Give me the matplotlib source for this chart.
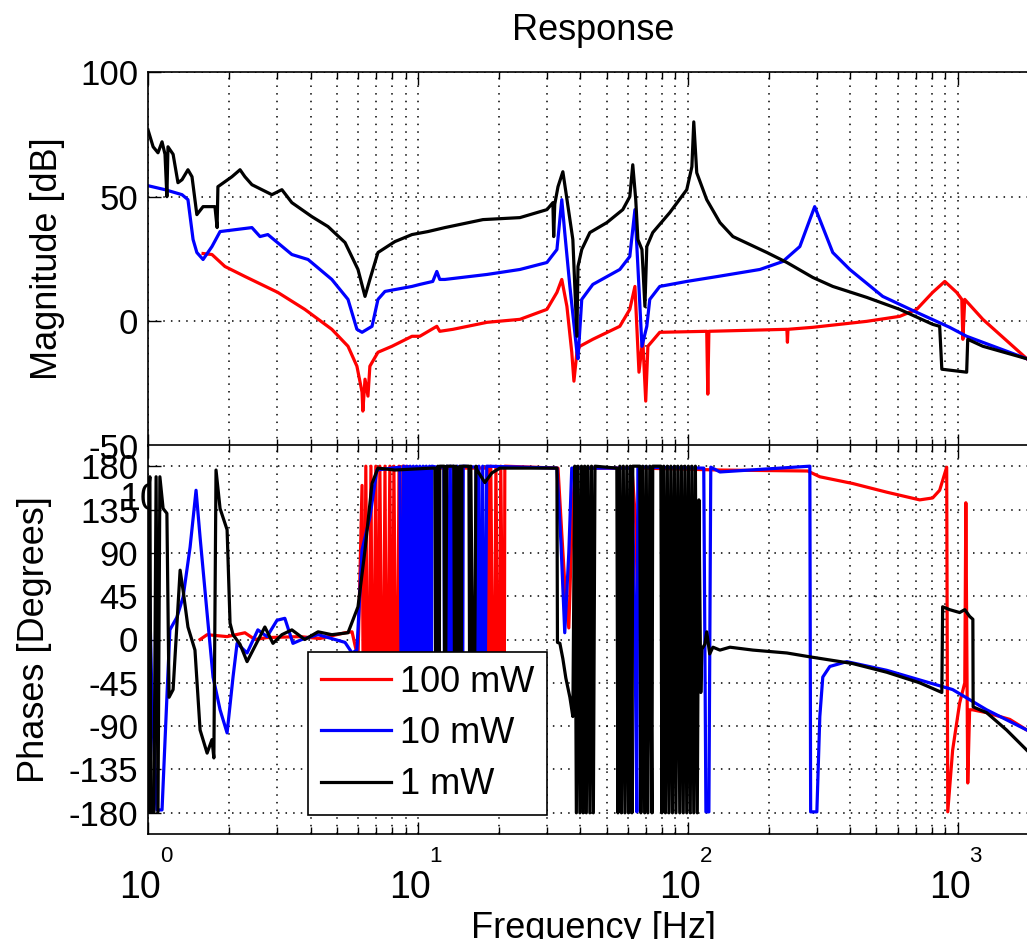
import matplotlib
matplotlib.use("Agg")
import matplotlib.pyplot as plt
import matplotlib.transforms as mtransforms
from matplotlib.ticker import LogLocator, NullFormatter
import numpy as np

plt.rcParams["font.family"] = ["Liberation Sans", "DejaVu Sans"]
plt.rcParams["axes.unicode_minus"] = False

# (log10 frequency [Hz], magnitude [dB])
red_mag = [(0.204, 27.2), (0.237, 26.8), (0.285, 22), (0.359, 18), (0.481, 11.6),
           (0.581, 4.8), (0.681, -3.2), (0.741, -10), (0.774, -18), (0.793, -28.4),
           (0.796, -36), (0.804, -23.2), (0.815, -30), (0.822, -18), (0.852, -12.4),
           (0.904, -10), (0.978, -6), (1.007, -6), (1.070, -2), (1.081, -4),
           (1.130, -3.2), (1.256, -0.4), (1.378, 0.8), (1.478, 4.8), (1.515, 11.6),
           (1.533, 16.8), (1.552, 6), (1.570, -12.4), (1.578, -24), (1.589, -12.4),
           (1.600, -10), (1.648, -7.2), (1.748, -2), (1.785, 4.8), (1.804, 14),
           (1.819, -20.4), (1.833, -7.2), (1.844, -32), (1.852, -10), (1.896, -4.4),
           (2.070, -4), (2.074, -29.2), (2.078, -4), (2.367, -3.2), (2.369, -8.4),
           (2.371, -3.2), (2.463, -2.4), (2.663, 0), (2.785, 2), (2.848, 4.8),
           (2.907, 11.6), (2.952, 16), (2.996, 11.6), (3.015, 8.8), (3.019, -7.2),
           (3.026, 8.8), (3.093, 0.8), (3.256, -15)]

blue_mag = [(0.000, 54.4), (0.063, 52.8), (0.126, 50.8), (0.148, 48.8), (0.167, 32.8),
            (0.181, 27.6), (0.204, 24.8), (0.237, 30), (0.267, 36), (0.385, 37.6),
            (0.415, 34), (0.444, 34.8), (0.533, 26.8), (0.593, 24.8), (0.681, 16.8),
            (0.741, 8.8), (0.774, -3.2), (0.793, -4.4), (0.830, -2), (0.852, 8.8),
            (0.878, 12), (0.978, 14), (1.007, 14.8), (1.055, 16), (1.070, 20),
            (1.081, 16.8), (1.100, 16.8), (1.256, 18.8), (1.378, 20.8), (1.478, 23.6),
            (1.515, 28.8), (1.533, 48.8), (1.544, 35.6), (1.563, 14), (1.589, -12.4),
            (1.593, -15), (1.607, 8.8), (1.648, 14.8), (1.748, 20.8), (1.785, 26),
            (1.804, 44.8), (1.815, 22), (1.830, -10), (1.848, -2), (1.859, 8.8),
            (1.896, 14), (1.996, 16), (2.111, 18), (2.267, 20.8), (2.352, 24),
            (2.415, 30), (2.452, 40.8), (2.470, 46), (2.489, 40.8), (2.537, 27.6),
            (2.600, 20.8), (2.722, 10), (2.848, 3.6), (2.970, -2.4), (3.033, -6),
            (3.256, -15)]

black_mag = [(0.000, 76.8), (0.019, 70), (0.037, 67.6), (0.052, 72), (0.063, 67),
             (0.070, 50), (0.074, 70), (0.093, 67), (0.111, 55.6), (0.126, 56.8),
             (0.148, 60.8), (0.163, 58), (0.181, 42.8), (0.204, 46), (0.248, 46),
             (0.256, 37.6), (0.259, 54), (0.285, 56), (0.311, 58), (0.341, 60.8),
             (0.359, 58), (0.385, 54.8), (0.459, 50.8), (0.496, 52.8), (0.533, 47.6),
             (0.607, 42), (0.667, 38), (0.730, 31.6), (0.778, 20.8), (0.804, 10),
             (0.822, 16.8), (0.852, 27.6), (0.915, 32), (0.978, 34.8), (1.037, 36),
             (1.100, 37.6), (1.241, 40.8), (1.378, 41.6), (1.478, 44.8), (1.500, 47.6),
             (1.503, 34), (1.507, 47), (1.519, 54), (1.537, 60), (1.548, 52),
             (1.574, 32.8), (1.589, -6), (1.593, 22), (1.607, 28.8), (1.637, 35.6),
             (1.700, 39.6), (1.759, 44.8), (1.785, 50), (1.796, 62.8), (1.807, 48.8),
             (1.815, 32.8), (1.830, 28.8), (1.841, 6), (1.848, 30), (1.870, 35.6),
             (1.933, 43.6), (1.996, 52.8), (2.015, 62), (2.022, 80), (2.033, 59.6),
             (2.070, 48.8), (2.119, 39.6), (2.167, 34), (2.293, 27.6), (2.367, 23.6),
             (2.463, 17.6), (2.537, 14), (2.663, 9.6), (2.785, 4.8), (2.907, -1.2),
             (2.933, -2), (2.941, -19.2), (3.033, -20.4), (3.037, -7.2), (3.093, -10),
             (3.256, -15)]

# (log10 frequency [Hz], phase [deg]); runs of +-180 are the wrapped parts
red_phase = [(0.193, 0), (0.219, 5), (0.293, 3), (0.359, 7), (0.396, 0), (0.441, 2),
             (0.563, 3), (0.637, 1), (0.730, 7), (0.756, 8), (0.778, -20), (0.793, 160),
             (0.800, -180), (0.807, 180), (0.815, -180), (0.826, 180), (0.833, -180),
             (0.844, 180), (0.852, -180), (0.859, 180), (0.870, -180), (0.878, 180),
             (0.885, -180), (0.896, 180), (0.904, -180), (0.911, 180), (0.922, -180),
             (0.930, 180), (0.937, -180), (0.944, 180), (1.007, 178), (1.259, 178),
             (1.263, -180), (1.270, 180), (1.281, -180), (1.289, 180), (1.300, -180),
             (1.307, 180), (1.319, -180), (1.322, 180), (1.519, 178), (1.533, 110),
             (1.548, 40), (1.559, 12), (1.570, 110), (1.581, 178), (1.793, 178),
             (1.807, 120), (1.815, 23), (1.822, 100), (1.830, 178), (2.119, 176),
             (2.444, 175), (2.489, 169), (2.611, 162), (2.737, 153), (2.859, 145),
             (2.907, 147), (2.933, 155), (2.959, 179), (2.963, -179), (2.981, -115),
             (3.007, -66), (3.026, -45), (3.030, 142), (3.037, -149), (3.044, -73),
             (3.055, -73), (3.107, -76), (3.193, -83), (3.256, -94)]

blue_phase = [(0.000, 121), (0.015, -66), (0.033, -177), (0.052, -177), (0.070, -60),
              (0.081, 10), (0.107, 23), (0.130, 44), (0.156, 96), (0.178, 155),
              (0.193, 106), (0.219, 27), (0.241, -39), (0.267, -73), (0.293, -97),
              (0.315, -39), (0.330, -4), (0.367, -14), (0.407, 10), (0.441, 3),
              (0.478, 20), (0.507, 22), (0.537, -4), (0.570, 0), (0.630, 5),
              (0.730, -3), (0.756, -14), (0.774, -11), (0.793, 93), (0.822, 127),
              (0.848, 176), (0.933, 179), (0.941, -180), (0.947, 180), (0.953, -180),
              (0.959, 180), (0.965, -180), (0.971, 180), (0.977, -180), (0.983, 180),
              (0.989, -180), (0.995, 180), (1.001, -180), (1.007, 180), (1.013, -180),
              (1.019, 180), (1.025, -180), (1.031, 180), (1.037, -180), (1.043, 180),
              (1.049, -180), (1.052, 180), (1.070, 179), (1.096, 179), (1.100, -180),
              (1.107, 180), (1.113, -180), (1.120, 180), (1.126, -180), (1.133, 180),
              (1.139, -180), (1.146, 180), (1.152, -180), (1.159, 180), (1.165, -180),
              (1.168, 180), (1.215, 179), (1.219, -180), (1.226, 180), (1.233, -180),
              (1.240, 180), (1.246, -180), (1.255, 180), (1.515, 178), (1.530, 100),
              (1.544, 7), (1.559, 90), (1.570, 178), (1.793, 178), (1.804, 10),
              (1.811, -179), (1.815, 179), (2.059, 178), (2.067, -179), (2.078, -179),
              (2.085, 179), (2.119, 174), (2.452, 180), (2.455, -179), (2.478, -179),
              (2.489, -80), (2.500, -39), (2.526, -28), (2.589, -23), (2.737, -32),
              (2.859, -42), (2.981, -52), (3.107, -73), (3.256, -94)]

black_phase = [(0.000, -179), (0.004, 160), (0.007, 169), (0.011, -179), (0.022, -179),
               (0.030, 169), (0.037, -179), (0.044, 169), (0.056, 136), (0.070, 131),
               (0.078, -60), (0.093, -52), (0.119, 72), (0.130, 51), (0.148, 13),
               (0.174, -11), (0.193, -94), (0.219, -118), (0.237, -104), (0.244, -123),
               (0.252, 176), (0.267, 136), (0.293, 114), (0.304, 17), (0.315, 5),
               (0.341, -5), (0.367, -23), (0.389, -11), (0.433, 13), (0.463, -4),
               (0.496, 5), (0.533, 10), (0.581, 0), (0.630, 8), (0.681, 5), (0.741, 7),
               (0.778, 34), (0.804, 93), (0.830, 162), (0.852, 178), (0.915, 176),
               (1.052, 178), (1.063, 178), (1.067, -180), (1.074, 180), (1.078, -180),
               (1.081, 180), (1.097, 180), (1.100, -180), (1.107, 180), (1.133, 180),
               (1.137, -180), (1.141, 180), (1.148, -180), (1.155, 180), (1.159, -180),
               (1.163, 180), (1.189, 180), (1.193, -180), (1.196, 180), (1.207, -180),
               (1.215, 180), (1.219, 176), (1.248, 163), (1.274, 173), (1.304, 178),
               (1.515, 178), (1.517, -3), (1.526, -4), (1.537, -20), (1.548, -40),
               (1.563, -60), (1.574, -80), (1.581, 180), (1.587, -180), (1.593, 180),
               (1.600, -180), (1.606, 180), (1.612, -180), (1.618, 180), (1.624, -180),
               (1.630, 180), (1.637, -180), (1.643, 180), (1.650, -180), (1.656, 180),
               (1.737, 178), (1.741, -180), (1.748, 180), (1.754, -180), (1.761, 180),
               (1.767, -180), (1.774, 180), (1.780, -180), (1.787, 180), (1.793, -180),
               (1.796, 180), (1.822, 180), (1.826, -180), (1.833, 180), (1.840, -180),
               (1.846, 180), (1.852, -180), (1.859, 180), (1.867, -180), (1.870, 180),
               (1.900, 180), (1.904, -180), (1.911, 180), (1.917, -180), (1.924, 180),
               (1.930, -180), (1.937, 180), (1.943, -180), (1.950, 180), (1.956, -180),
               (1.963, 180), (1.970, -180), (1.976, 180), (1.983, -180), (1.989, 180),
               (1.996, -180), (2.002, 180), (2.009, -180), (2.015, 180), (2.022, -180),
               (2.028, 180), (2.035, -180), (2.041, 145), (2.048, -55), (2.052, -10),
               (2.063, -5), (2.070, 8), (2.081, -15), (2.093, -8), (2.119, -11),
               (2.156, -8), (2.241, -11), (2.367, -14), (2.452, -18), (2.611, -25),
               (2.737, -34), (2.859, -45), (2.941, -55), (2.944, 34), (2.970, 31),
               (3.007, 28), (3.026, 31), (3.044, 24), (3.056, 21), (3.057, -70),
               (3.107, -76), (3.181, -94), (3.256, -115)]

labels = ["100 mW", "10 mW", "1 mW"]
colors = ["#ff0000", "#0000ff", "#000000"]
mag_ticks = [-50, 0, 50, 100]
phase_ticks = [-180, -135, -90, -45, 0, 45, 90, 135, 180]
decades = [0, 1, 2, 3]


def to_xy(points):
    arr = np.array(points, dtype=float)
    return 10 ** arr[:, 0], arr[:, 1]


W, H = 1027, 939
fig = plt.figure(figsize=(W / 100, H / 100), dpi=100)


def box(left, top, right, bottom):
    return [left / W, 1 - bottom / H, (right - left) / W, (bottom - top) / H]


def style_axes(ax, ylim, yticks):
    ax.set_xscale("log")
    ax.set_xlim(1, 2000)
    ax.set_ylim(*ylim)
    ax.set_yticks(yticks)
    ax.set_yticklabels([str(t) for t in yticks])
    ax.xaxis.set_major_locator(LogLocator(base=10, numticks=10))
    ax.xaxis.set_minor_locator(LogLocator(base=10, subs=np.arange(2, 10), numticks=40))
    ax.xaxis.set_major_formatter(NullFormatter())
    ax.xaxis.set_minor_formatter(NullFormatter())
    ax.tick_params(which="both", direction="in", top=True, right=True, width=1)
    ax.tick_params(which="major", length=9, labelsize=25, pad=7)
    ax.tick_params(which="minor", length=5)
    ax.grid(True, which="major", linestyle=(0, (1, 4)), color="k", linewidth=1.1)
    ax.grid(True, which="minor", axis="x", linestyle=(0, (1, 4)), color="k", linewidth=1.1)
    for s in ax.spines.values():
        s.set_linewidth(1.2)
    # MATLAB style decade labels: big "10" with the exponent up and to the right
    trans = mtransforms.blended_transform_factory(ax.transData, ax.transAxes)
    base_tr = mtransforms.offset_copy(trans, fig=fig, x=-8, y=-36, units="dots")
    exp_tr = mtransforms.offset_copy(trans, fig=fig, x=18, y=-12, units="dots")
    for d in decades:
        ax.text(10 ** d, 0, "10", transform=base_tr, ha="center", va="top",
                fontsize=27, clip_on=False)
        ax.text(10 ** d, 0, str(d), transform=exp_tr, ha="center", va="top",
                fontsize=16, clip_on=False)


ax_mag = fig.add_axes(box(148, 72, 1039, 446))
style_axes(ax_mag, (-50, 100), mag_ticks)
for pts, c in zip([red_mag, blue_mag, black_mag], colors):
    f, v = to_xy(pts)
    ax_mag.plot(f, v, color=c, linewidth=2.3)
ax_mag.set_ylabel("Magnitude [dB]", fontsize=26)
ax_mag.yaxis.set_label_coords(-0.093, 0.5)

ax_ph = fig.add_axes(box(148, 445, 1039, 834))
style_axes(ax_ph, (-202, 202), phase_ticks)
for pts, c, lab in zip([red_phase, blue_phase, black_phase], colors, labels):
    f, v = to_xy(pts)
    ax_ph.plot(f, v, color=c, linewidth=2.3, label=lab)
ax_ph.set_ylabel("Phases [Degrees]", fontsize=26)
ax_ph.yaxis.set_label_coords(-0.108, 0.5)
ax_ph.set_xlabel("Frequency [Hz]", fontsize=26)
ax_ph.xaxis.set_label_coords(0.5, -0.198)

leg = ax_ph.legend(loc="lower left", bbox_to_anchor=(0.18, 0.049), borderaxespad=0,
                   fontsize=26, fancybox=False, edgecolor="k", framealpha=1,
                   borderpad=0.35, labelspacing=0.45, handlelength=1.95,
                   handletextpad=0.25)
leg.get_frame().set_linewidth(1.2)

fig.text(593 / W, 1 - 40 / H, "Response", ha="center", va="baseline", fontsize=26)

fig.savefig("out.png", dpi=100)
